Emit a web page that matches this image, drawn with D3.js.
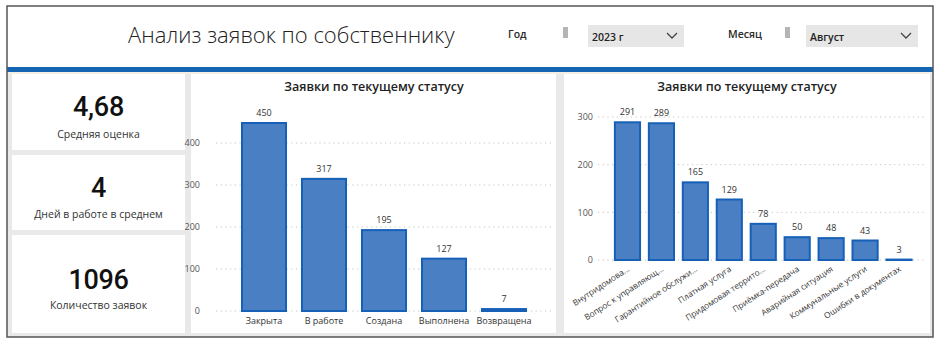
<!DOCTYPE html>
<html><head><meta charset="utf-8">
<script src="https://cdn.jsdelivr.net/npm/d3@7/dist/d3.min.js"></script>
<style>
html,body{margin:0;padding:0;background:#fff;}
svg{display:block;font-family:"Open Sans","Noto Sans",sans-serif;}
</style></head>
<body><svg id="c" width="940" height="344"></svg>
<script>
// ---- data ----
const reportTitle = "Анализ заявок по собственнику";
const yearLabel = "Год", yearValue = "2023 г";
const monthLabel = "Месяц", monthValue = "Август";
const kpiValues = ["4,68", "4", "1096"];
const kpiLabels = ["Средняя оценка", "Дней в работе в среднем", "Количество заявок"];
const chartTitle = "Заявки по текущему статусу";
const statusCategories = ["Закрыта", "В работе", "Создана", "Выполнена", "Возвращена"];
const statusValues = [450, 317, 195, 127, 7];
const statusTicks = [0, 100, 200, 300, 400];
const typeCategories = ["Внутридомова...", "Вопрос к управляющ...", "Гарантийное обслужи...", "Платная услуга", "Придомовая террито...", "Приёмка-передача", "Аварийная ситуация", "Коммунальные услуги", "Ошибки в документах"];
const typeValues = [291, 289, 165, 129, 78, 50, 48, 43, 3];
const typeTicks = [0, 100, 200, 300];

const svg = d3.select("#c");
const BAR_FILL = "#4a7fc4", BAR_STROKE = "#1660b8", TXT = "#333";

// frame
svg.append("rect").attr("x",7).attr("y",6).attr("width",926).attr("height",331).attr("fill","#fff");
svg.append("rect").attr("x",7).attr("y",72).attr("width",926).attr("height",265).attr("fill","#e9e9e9");
svg.append("rect").attr("x",7).attr("y",72).attr("width",926).attr("height",2).attr("fill","#f3efe6");
svg.append("rect").attr("x",7).attr("y",67).attr("width",926).attr("height",5).attr("fill","#1464b4");
svg.append("rect").attr("x",7).attr("y",6).attr("width",926).attr("height",331).attr("fill","none").attr("stroke","#555").attr("stroke-width",1.5);

// header
svg.append("text").attr("x",128).attr("y",43).attr("font-size",22).attr("font-weight",300).attr("fill","#222").text(reportTitle);
function slicer(lx, label, hx, bx, bw, value){
  svg.append("text").attr("x",lx).attr("y",38).attr("font-size",10.5).attr("font-weight",600).attr("fill","#2a2a2a").text(label);
  svg.append("rect").attr("x",hx).attr("y",27).attr("width",5).attr("height",11).attr("fill","#b5b5b5");
  svg.append("rect").attr("x",bx).attr("y",25).attr("width",bw).attr("height",22).attr("fill","#e6e6e6");
  svg.append("text").attr("x",bx+4).attr("y",41).attr("font-size",10.5).attr("font-weight",600).attr("fill","#222").text(value);
  const cx = bx+bw-12;
  svg.append("path").attr("d",`M${cx-5},${33} L${cx},${38} L${cx+5},${33}`).attr("fill","none").attr("stroke","#444").attr("stroke-width",1.3);
}
slicer(508, yearLabel, 563, 588, 96, yearValue);
slicer(728, monthLabel, 785, 806, 112, monthValue);

// panels
const cards = [[74,76],[155,75],[235,98]];
cards.forEach(([y,h],i)=>{
  svg.append("rect").attr("x",12).attr("y",y).attr("width",173).attr("height",h).attr("fill","#fff");
});
svg.append("rect").attr("x",191).attr("y",74).attr("width",365).attr("height",259).attr("fill","#fff");
svg.append("rect").attr("x",564).attr("y",74).attr("width",366).attr("height",259).attr("fill","#fff");

// KPI
const kpiNumY = [116, 197, 289], kpiLabY = [138, 218, 309];
kpiValues.forEach((v,i)=>{
  svg.append("text").attr("x",98.5).attr("y",kpiNumY[i]).attr("text-anchor","middle").attr("font-family","Roboto").attr("font-size",27).attr("font-weight",500).attr("letter-spacing","-0.3").attr("fill","#111").text(v);
  svg.append("text").attr("x",98.5).attr("y",kpiLabY[i]).attr("text-anchor","middle").attr("font-size",10.5).attr("fill","#333").text(kpiLabels[i]);
});

// bar chart helper
function barChart(o){
  const g = svg.append("g");
  g.append("text").attr("x",o.titleX).attr("y",91).attr("text-anchor","middle").attr("font-size",12.5).attr("font-weight",600).attr("fill","#222").text(chartTitle);
  const x = d3.scaleBand().domain(o.cats).range(o.xr).paddingInner(o.pi).paddingOuter(o.pi/2);
  const y = d3.scaleLinear().domain(o.yd).range(o.yr);
  const ax = d3.axisLeft(y).tickValues(o.ticks).tickSize(0).tickPadding(0);
  const ag = g.append("g").attr("transform",`translate(${o.axisX},0)`).call(ax);
  ag.select(".domain").remove();
  ag.selectAll("text").attr("font-size",9).attr("fill","#555").attr("font-family","Open Sans").attr("dy","0.32em");
  g.selectAll(".grid").data(o.ticks).join("line")
    .attr("x1",o.gx[0]).attr("x2",o.gx[1]).attr("y1",d=>y(d)).attr("y2",d=>y(d))
    .attr("stroke","#c4c4c4").attr("stroke-dasharray","1.2,3.5").attr("stroke-width",1);
  g.selectAll(".bar").data(o.vals).join("rect")
    .attr("x",(d,i)=>x(o.cats[i])+1).attr("width",x.bandwidth()-2)
    .attr("y",d=>y(d)+1).attr("height",d=>Math.max(0,y(0)-y(d)-1))
    .attr("fill",BAR_FILL).attr("stroke",BAR_STROKE).attr("stroke-width",2);
  g.selectAll(".lbl").data(o.vals).join("text")
    .attr("x",(d,i)=>x(o.cats[i])+x.bandwidth()/2).attr("y",d=>y(d)-6)
    .attr("text-anchor","middle").attr("font-size",9).attr("fill",TXT).text(d=>d);
  return {x,y,g};
}

const c1 = barChart({cats:statusCategories, vals:statusValues, ticks:statusTicks,
  xr:[234,534], pi:0.233, yd:[0,500], yr:[311,101], axisX:200, gx:[216,551], titleX:374});
c1.g.selectAll(".xl").data(statusCategories).join("text")
  .attr("x",d=>c1.x(d)+c1.x.bandwidth()/2).attr("y",324).attr("text-anchor","middle")
  .attr("font-size",9).attr("fill",TXT).text(d=>d);

const c2 = barChart({cats:typeCategories, vals:typeValues, ticks:typeTicks,
  xr:[610.5,916], pi:0.2, yd:[0,300], yr:[260,117], axisX:593, gx:[598,927], titleX:747});
c2.g.selectAll(".xl").data(typeCategories).join("text")
  .attr("transform",d=>`translate(${c2.x(d)+c2.x.bandwidth()/2+1},${268}) rotate(-33)`)
  .attr("text-anchor","end").attr("dy","0.35em")
  .attr("font-size",8.3).attr("fill",TXT).text(d=>d);
</script></body></html>
